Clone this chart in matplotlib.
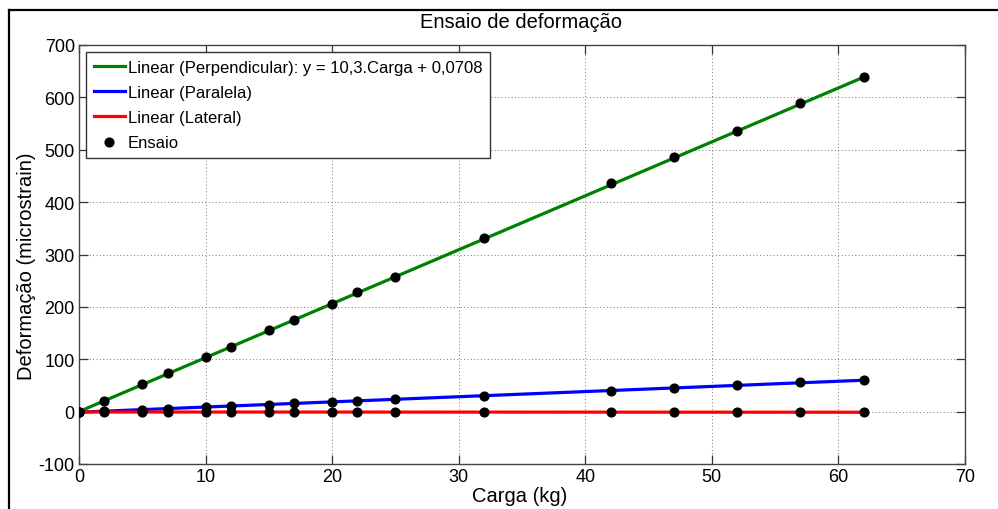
import numpy as np
import matplotlib
matplotlib.use("Agg")
import matplotlib.pyplot as plt
from matplotlib.lines import Line2D

plt.rcParams["font.family"] = ["Liberation Sans", "DejaVu Sans"]
plt.rcParams["axes.unicode_minus"] = False

# Load steps (kg) and measured strain for the three gauge directions
carga = [0, 2, 5, 7, 10, 12, 15, 17, 20, 22, 25, 32, 42, 47, 52, 57, 62]
perpendicular = [0, 21, 52, 73, 105, 124, 156, 175, 206, 229, 257, 331, 436, 487, 535, 589, 638]
paralela = [0, 1, 4, 5, 9, 11, 13, 16, 18, 20, 24, 30, 40, 45, 50, 56, 60]
lateral = [0, 0, -1, -1, -1, -1, -1, -1, -1, -1, -1, -1, -1, -1, -1, -1, -1]

# Trend line of the perpendicular gauge as given in its legend entry
perp_slope = 10.3
perp_intercept = 0.0708

xticks = [0, 10, 20, 30, 40, 50, 60, 70]
yticks = [-100, 0, 100, 200, 300, 400, 500, 600, 700]

W, H = 998, 510
fig = plt.figure(figsize=(W / 100, H / 100), dpi=100)
fig.patch.set_facecolor("white")

ax = fig.add_axes([79 / W, (H - 465) / H, 886 / W, 419 / H])

x = np.array(carga, dtype=float)
xfit = np.array([x.min(), x.max()])

par_fit = np.polyfit(x, paralela, 1)
lat_fit = np.polyfit(x, lateral, 1)

ax.plot(xfit, perp_slope * xfit + perp_intercept, color="#008000", lw=2.3,
        label="Linear (Perpendicular): y = 10,3.Carga + 0,0708", zorder=3)
ax.plot(xfit, np.polyval(par_fit, xfit), color="#0000ff", lw=2.3,
        label="Linear (Paralela)", zorder=3)
ax.plot(xfit, np.polyval(lat_fit, xfit), color="#ff0000", lw=2.3,
        label="Linear (Lateral)", zorder=3)

allx = np.concatenate([x, x, x])
ally = np.concatenate([perpendicular, paralela, lateral])
ax.plot(allx, ally, ls="none", marker="o", ms=6.3, color="black",
        label="Ensaio", zorder=4)

ax.set_xlim(0, 70)
ax.set_ylim(-100, 700)
ax.set_xticks(xticks)
ax.set_yticks(yticks)
ax.tick_params(direction="in", length=6.5, width=0.9, top=True, right=True,
               labelsize=13, colors="#333333", labelcolor="black", pad=3)
for s in ax.spines.values():
    s.set_color("#444444")
    s.set_linewidth(1.0)

ax.grid(True, color="#777777", linestyle=(0, (1, 2.5)), linewidth=0.7)
ax.set_axisbelow(True)

leg = ax.legend(loc="upper left", bbox_to_anchor=(7 / 886, 1 - 7 / 419),
                borderaxespad=0, fontsize=12, frameon=True, fancybox=False,
                handlelength=1.9, handletextpad=0.15, labelspacing=0.62,
                borderpad=0.45, edgecolor="#333333", framealpha=1)
leg.get_frame().set_linewidth(1.0)

fig.text(521 / W, 1 - 23 / H, "Ensaio de deformação", ha="center", va="center", fontsize=14.5)
fig.text(520 / W, 1 - 497 / H, "Carga (kg)", ha="center", va="center", fontsize=14.5)
fig.text(27 / W, 1 - 266 / H, "Deformação (microstrain)", ha="center", va="center",
         rotation=90, fontsize=14.5)

# Outer frame of the figure window
fig.add_artist(Line2D([9 / W, 1], [1 - 11 / H, 1 - 11 / H], color="black", lw=1.6,
                      transform=fig.transFigure))
fig.add_artist(Line2D([9 / W, 9 / W], [0, 1 - 11 / H], color="black", lw=1.6,
                      transform=fig.transFigure))

fig.savefig("out.png", dpi=100)
